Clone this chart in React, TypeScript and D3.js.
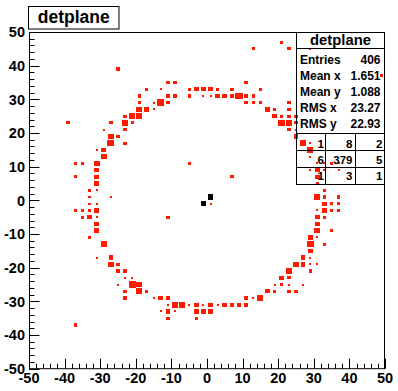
import React from 'react';
import * as d3 from 'd3';

const W = 398;
const H = 391;
const frame = { left: 29, top: 32, right: 385, bottom: 368.7 };

// bin centres (x, y) and contents (bins are 2 units wide)
const redCells: [number, number, number][] = [
  [21, 47, 2], [13, 45, 2], [23, 45, 2], [29, 45, 1], [-25, 39, 2], [49, 37, 2],
  [-11, 35, 2], [-9, 35, 2], [11, 35, 2],
  [-17, 33, 2], [-13, 33, 1], [-5, 33, 2], [-3, 33, 3], [-1, 33, 3], [1, 33, 3], [3, 33, 2], [7, 33, 2], [15, 33, 2],
  [-19, 31, 2], [-11, 31, 2], [-9, 31, 2], [-5, 31, 2], [-1, 31, 1], [1, 31, 1], [3, 31, 3], [5, 31, 3], [7, 31, 3], [9, 31, 5], [11, 31, 3], [13, 31, 2],
  [-19, 29, 2], [-15, 29, 1], [-13, 29, 5], [-11, 29, 2], [11, 29, 2], [13, 29, 2], [15, 29, 2], [23, 29, 2],
  [-19, 27, 4], [-17, 27, 4], [-15, 27, 1], [17, 27, 3], [19, 27, 2], [23, 27, 2],
  [-23, 25, 2], [-21, 25, 4], [-19, 25, 4], [19, 25, 3], [21, 25, 2], [23, 25, 2], [25, 25, 2],
  [-39, 23, 2], [-27, 23, 2], [-23, 23, 4], [-21, 23, 2], [21, 23, 5], [23, 23, 4], [25, 23, 2],
  [-29, 21, 1], [-23, 21, 2], [23, 21, 2], [25, 21, 1],
  [-27, 19, 4], [-25, 19, 2], [25, 19, 3],
  [-27, 17, 5], [-23, 17, 2], [27, 17, 4], [29, 17, 1],
  [-31, 15, 1], [-29, 15, 3], [29, 15, 4],
  [-29, 13, 4], [29, 13, 1],
  [-37, 11, 2], [-35, 11, 2], [-31, 11, 4], [-5, 11, 2], [31, 11, 1], [33, 11, 1], [35, 11, 2], [37, 11, 1],
  [-31, 9, 3], [29, 9, 1], [31, 9, 3], [33, 9, 1], [37, 9, 1],
  [-37, 7, 2], [-31, 7, 3], [7, 7, 2], [31, 7, 3],
  [-31, 5, 3], [31, 5, 2],
  [-33, 3, 2], [-31, 3, 1], [33, 3, 2],
  [-33, 1, 1], [-27, 1, 1], [31, 1, 4], [33, 1, 2], [37, 1, 2],
  [-33, -1, 1], [-31, -1, 1], [1, -1, 1], [33, -1, 3], [35, -1, 2], [37, -1, 2],
  [-37, -3, 2], [-35, -3, 2], [-33, -3, 2], [-31, -3, 3], [31, -3, 1], [33, -3, 3], [35, -3, 2], [37, -3, 2],
  [-35, -5, 2], [-33, -5, 3], [-31, -5, 1], [-11, -5, 2], [31, -5, 3], [33, -5, 2],
  [-31, -7, 3], [31, -7, 3],
  [-31, -9, 3], [31, -9, 4], [35, -9, 2],
  [-33, -11, 2], [29, -11, 3], [31, -11, 1],
  [-29, -13, 4], [29, -13, 5], [33, -13, 2],
  [29, -15, 3],
  [-31, -17, 1], [-27, -17, 3], [27, -17, 3], [29, -17, 1],
  [-27, -19, 4], [-25, -19, 2], [25, -19, 4], [27, -19, 3], [29, -19, 1], [31, -19, 1],
  [-25, -21, 2], [-23, -21, 2], [23, -21, 4], [29, -21, 2],
  [-23, -23, 1], [-21, -23, 1], [21, -23, 3], [23, -23, 2],
  [-25, -25, 1], [-21, -25, 5], [-19, -25, 4], [19, -25, 1], [21, -25, 2], [23, -25, 1], [27, -25, 1],
  [-23, -27, 2], [-19, -27, 4], [-17, -27, 2], [17, -27, 3], [19, -27, 2], [23, -27, 2], [25, -27, 2],
  [-23, -29, 2], [-15, -29, 1], [-13, -29, 3], [-11, -29, 2], [11, -29, 2], [13, -29, 1], [15, -29, 4],
  [-11, -31, 1], [-9, -31, 4], [-7, -31, 4], [-5, -31, 1], [-3, -31, 3], [-1, -31, 1], [1, -31, 3], [3, -31, 1], [5, -31, 3], [7, -31, 3], [9, -31, 3], [11, -31, 3],
  [-13, -33, 1], [-11, -33, 3], [-9, -33, 1], [-3, -33, 3], [-1, -33, 4], [1, -33, 3],
  [-11, -35, 2], [-3, -35, 2],
  [-37, -37, 2],
];
const blackCells: [number, number, number][] = [[1, 1, 4], [-1, -1, 4]];

const statLabels = ['Entries', 'Mean x', 'Mean y', 'RMS x', 'RMS y'];
const statValues = ['406', '1.651', '1.088', '23.27', '22.93'];
const overflowTable = [[1, 8, 2], [6, 379, 5], [1, 3, 1]];

const majorTicks = d3.range(-50, 51, 10);
const minorTicks = d3.range(-50, 51, 2);
const font = '"Liberation Sans", Arial, Helvetica, sans-serif';

const App = () => {
  const x = d3.scaleLinear().domain([-50, 50]).range([frame.left, frame.right]);
  const y = d3.scaleLinear().domain([-50, 50]).range([frame.bottom, frame.top]);
  // fraction of the bin a box fills
  const size = d3.scaleLinear().domain([0, 5]).range([0.12, 1]);
  const bw = x(2) - x(0);
  const bh = y(0) - y(2);

  const box = (c: [number, number, number], fill: string, i: number) => {
    const w = bw * size(c[2]);
    const h = bh * size(c[2]);
    return <rect key={fill + i} x={x(c[0]) - w / 2} y={y(c[1]) - h / 2} width={w} height={h} fill={fill} />;
  };

  const sx0 = 296.5, sx1 = 384.5;
  const colLines = [325.5, 355.5];
  const colRight = [324, 352.5, 382.5];
  const rowTops = [133.5, 150.5, 167.5];
  const rowBase = [147.5, 163.5, 180];
  const statBase = [63.5, 79.5, 95.8, 112, 128.3];

  return (
    <svg width={W} height={H} style={{ position: 'absolute', left: 0, top: 0, background: '#fff' }} fontFamily={font} fontWeight="bold">
      <rect width={W} height={H} fill="#fff" />
      {/* boxes */}
      <g shapeRendering="crispEdges">
        {redCells.map((c, i) => box(c, '#ff1a00', i))}
        {blackCells.map((c, i) => box(c, '#000', i))}
      </g>
      {/* frame */}
      <rect x={frame.left + 0.5} y={frame.top + 0.5} width={frame.right - frame.left - 1} height={frame.bottom - frame.top - 0.5} fill="none" stroke="#000" />
      {/* x axis */}
      {minorTicks.map(t => {
        const maj = t % 10 === 0;
        const px = Math.round(x(t)) + 0.5;
        return <line key={'xt' + t} x1={px} x2={px} y1={frame.bottom} y2={frame.bottom - (maj ? 10 : 5)} stroke="#000" />;
      })}
      {majorTicks.map(t => (
        <text key={'xl' + t} x={x(t)} y={383} textAnchor="middle" fontSize={14.5}>{t}</text>
      ))}
      {/* y axis */}
      {minorTicks.map(t => {
        const maj = t % 10 === 0;
        const py = Math.round(y(t)) + 0.5;
        return <line key={'yt' + t} x1={frame.left} x2={frame.left + (maj ? 10.5 : 5.5)} y1={py} y2={py} stroke="#000" />;
      })}
      {majorTicks.map(t => (
        <text key={'yl' + t} x={25} y={y(t)} dy="0.36em" textAnchor="end" fontSize={14.5}>{t}</text>
      ))}
      {/* title */}
      <rect x={28.5} y={6.5} width={90.5} height={22.5} fill="#fff" stroke="#000" />
      <text x={73.7} y={23.3} textAnchor="middle" fontSize={17.5}>detplane</text>
      {/* stats box */}
      <rect x={sx0} y={frame.top + 0.5} width={sx1 - sx0} height={184.5 - frame.top - 0.5} fill="none" stroke="#000" />
      <line x1={sx0} x2={sx1} y1={48.5} y2={48.5} stroke="#000" />
      <text x={(sx0 + sx1) / 2} y={45} textAnchor="middle" fontSize={14.8}>detplane</text>
      {statLabels.map((l, i) => (
        <g key={l}>
          <text x={300} y={statBase[i]} fontSize={12}>{l}</text>
          <text x={380.5} y={statBase[i]} textAnchor="end" fontSize={12}>{statValues[i]}</text>
        </g>
      ))}
      {rowTops.map(r => <line key={'r' + r} x1={sx0} x2={sx1} y1={r} y2={r} stroke="#000" />)}
      {colLines.map(c => <line key={'c' + c} x1={c} x2={c} y1={133.5} y2={184.5} stroke="#000" />)}
      {overflowTable.map((row, ri) =>
        row.map((v, ci) => (
          <text key={ri + '-' + ci} x={colRight[ci]} y={rowBase[ri]} textAnchor="end" fontSize={11.5}>{v}</text>
        ))
      )}
    </svg>
  );
};

export default App;
